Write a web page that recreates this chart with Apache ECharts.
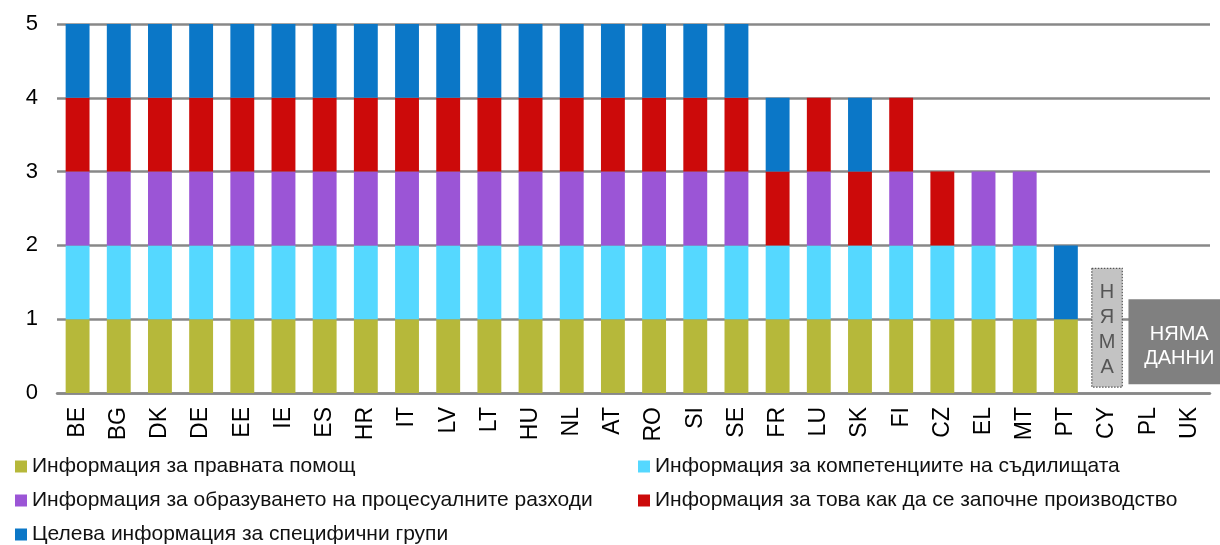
<!DOCTYPE html>
<html>
<head>
<meta charset="utf-8">
<script src="https://cdn.jsdelivr.net/npm/echarts@6/dist/echarts.min.js"></script>
<style>
  html, body { margin: 0; padding: 0; background: #fff; }
  #main { width: 1220px; height: 545px; }
</style>
</head>
<body>
<div id="main"></div>
<script>
// categories and series values (1 = information available)
const countries = ['BE', 'BG', 'DK', 'DE', 'EE', 'IE', 'ES', 'HR', 'IT', 'LV', 'LT', 'HU', 'NL', 'AT', 'RO', 'SI', 'SE', 'FR', 'LU', 'SK', 'FI', 'CZ', 'EL', 'MT', 'PT', 'CY', 'PL', 'UK']
const legalAid     = [1, 1, 1, 1, 1, 1, 1, 1, 1, 1, 1, 1, 1, 1, 1, 1, 1, 1, 1, 1, 1, 1, 1, 1, 1, 0, 0, 0]
const courtsInfo   = [1, 1, 1, 1, 1, 1, 1, 1, 1, 1, 1, 1, 1, 1, 1, 1, 1, 1, 1, 1, 1, 1, 1, 1, 0, 0, 0, 0]
const costsInfo    = [1, 1, 1, 1, 1, 1, 1, 1, 1, 1, 1, 1, 1, 1, 1, 1, 1, 0, 1, 0, 1, 0, 1, 1, 0, 0, 0, 0]
const startInfo    = [1, 1, 1, 1, 1, 1, 1, 1, 1, 1, 1, 1, 1, 1, 1, 1, 1, 1, 1, 1, 1, 1, 0, 0, 0, 0, 0, 0]
const groupsInfo   = [1, 1, 1, 1, 1, 1, 1, 1, 1, 1, 1, 1, 1, 1, 1, 1, 1, 1, 0, 1, 0, 0, 0, 0, 1, 0, 0, 0]
const seriesNames = [
  'Информация за правната помощ',
  'Информация за компетенциите на съдилищата',
  'Информация за образуването на процесуалните разходи',
  'Информация за това как да се започне производство',
  'Целева информация за специфични групи'
]
const yTicks = [0, 1, 2, 3, 4, 5]
// "no data" notes: [first category, last category, y from, y to, text]
const noDataNotes = [
  ['CY', 'CY', 0.08, 1.69, 'Н\nЯ\nМ\nА'],
  ['PL', 'UK', 0.12, 1.27, 'НЯМА\nДАННИ']
]

const colors = ['#b6b83a', '#55d8ff', '#9b55d6', '#cc0a0a', '#0b77c7']
const values = [legalAid, courtsInfo, costsInfo, startInfo, groupsInfo]

const chart = echarts.init(document.getElementById('main'))

const barSeries = values.map((arr, i) => ({
  name: seriesNames[i],
  type: 'bar',
  stack: 'total',
  barWidth: '58%',
  itemStyle: { color: colors[i] },
  data: arr.map(v => (v ? v : null))
}))

const noteSeries = {
  type: 'custom',
  clip: false,
  z: 5,
  silent: true,
  data: noDataNotes.map(n => [countries.indexOf(n[0]), countries.indexOf(n[1]), n[2], n[3]]),
  renderItem: function (params, api) {
    const idx = params.dataIndex
    const first = api.value(0)
    const last = api.value(1)
    const band = api.size([1, 0])[0]
    const p0 = api.coord([first, api.value(3)])
    const p1 = api.coord([last, api.value(2)])
    const isSingle = first === last
    let x0, x1
    if (isSingle) {
      x0 = p0[0] - band * 0.37
      x1 = p0[0] + band * 0.37
    } else {
      x0 = p0[0] - band * 0.48
      x1 = params.coordSys.x + params.coordSys.width + 12
    }
    return {
      type: 'group',
      children: [
        {
          type: 'rect',
          shape: { x: x0, y: p0[1], width: x1 - x0, height: p1[1] - p0[1] },
          style: isSingle
            ? { fill: '#c3c3c3', stroke: '#555', lineWidth: 1.2, lineDash: [1.5, 1.5] }
            : { fill: '#808080' }
        },
        {
          type: 'text',
          x: (x0 + x1) / 2 + (isSingle ? 0 : 4),
          y: (p0[1] + p1[1]) / 2 + (isSingle ? 2 : 5),
          style: {
            text: noDataNotes[idx][4],
            fill: isSingle ? '#555' : '#fff',
            font: '20px "Liberation Sans", Arial, sans-serif',
            align: 'center',
            verticalAlign: 'middle',
            lineHeight: isSingle ? 25 : 24
          }
        }
      ]
    }
  }
}

const legendText = { fontSize: 21, lineHeight: 20, color: '#111', fontFamily: '"Liberation Sans", Arial, sans-serif' }

const option = {
  animation: false,
  textStyle: { fontFamily: '"Liberation Sans", Arial, sans-serif' },
  grid: { left: 57, right: 10, top: 24, bottom: 152, containLabel: false },
  legend: [
    {
      orient: 'vertical',
      left: 10,
      top: 451,
      height: 140,
      itemWidth: 12,
      itemHeight: 12,
      itemGap: 13,
      icon: 'rect',
      textStyle: legendText,
      data: [seriesNames[0], seriesNames[2], seriesNames[4]]
    },
    {
      orient: 'vertical',
      left: 633,
      top: 451,
      height: 140,
      itemWidth: 12,
      itemHeight: 12,
      itemGap: 13,
      icon: 'rect',
      textStyle: legendText,
      data: [seriesNames[1], seriesNames[3]]
    }
  ],
  xAxis: {
    type: 'category',
    data: countries,
    axisLine: { lineStyle: { color: '#888', width: 2.5 } },
    axisTick: { show: false },
    axisLabel: { rotate: 90, fontSize: 23, color: '#000', margin: 14, interval: 0 }
  },
  yAxis: {
    type: 'value',
    min: yTicks[0],
    max: yTicks[yTicks.length - 1],
    interval: 1,
    axisLine: { show: false },
    axisTick: { show: false },
    axisLabel: { fontSize: 22, color: '#000', margin: 19 },
    splitLine: { lineStyle: { color: '#888', width: 2.5 } }
  },
  series: barSeries.concat([noteSeries])
}

chart.setOption(option)
</script>
</body>
</html>
